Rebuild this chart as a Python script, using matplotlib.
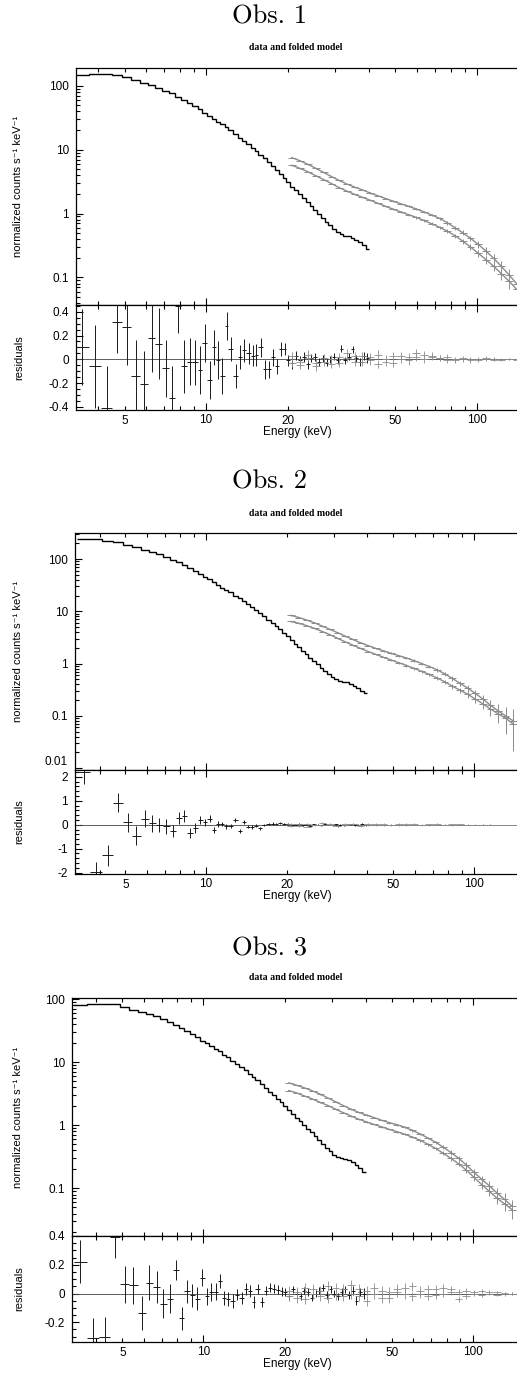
import numpy as np
import matplotlib.pyplot as plt
from matplotlib.ticker import FixedLocator, FuncFormatter, LogLocator, NullFormatter, MultipleLocator

plt.rcParams['font.family'] = ['Liberation Sans', 'DejaVu Sans']
plt.rcParams['axes.unicode_minus'] = False

W, H = 517, 1373

# ---- data ----
# PCA channel edges in keV, same binning for the three observations
pca_edges = [3.3, 3.7, 4.1, 4.5, 4.9, 5.3, 5.7, 6.1, 6.5, 6.9,
             7.3, 7.7, 8.1, 8.5, 8.9, 9.3, 9.7, 10.1, 10.5, 10.9,
             11.3, 11.7, 12.1, 12.6, 13.1, 13.6, 14.1, 14.6, 15.1, 15.6,
             16.2, 16.8, 17.4, 18.0, 18.6, 19.2, 19.8, 20.5, 21.2, 21.9,
             22.6, 23.3, 24.1, 24.9, 25.7, 26.5, 27.4, 28.3, 29.2, 30.1,
             31.1, 32.1, 33.1, 34.2, 35.3, 36.4, 37.6, 38.8, 40.0]

# HEXTE bin edges in keV
hexte_edges = [20.0, 21.5, 23.0, 24.6, 26.3, 28.1, 30.0, 32.0, 34.2, 36.5,
               39.0, 41.7, 44.5, 47.5, 50.7, 54.1, 57.8, 61.7, 65.9, 70.4,
               75.2, 80.3, 85.8, 91.6, 97.8, 104.4, 111.5, 119.0, 127.0, 135.6,
               144.8]

obs1_pca = [150, 155, 154, 146, 135, 122, 112, 102, 92, 84,
            76, 68, 60, 54, 48, 43, 38, 34, 30.5, 27.5,
            25, 22.5, 20, 17.5, 15.5, 13.8, 12.2, 10.8, 9.6, 8.4,
            7.3, 6.3, 5.5, 4.8, 4.15, 3.6, 3.1, 2.65, 2.3, 2.0,
            1.75, 1.5, 1.3, 1.12, 0.98, 0.86, 0.75, 0.66, 0.58, 0.51,
            0.47, 0.45, 0.44, 0.42, 0.39, 0.36, 0.32, 0.28]
obs2_pca = [240, 240, 225, 215, 190, 168, 150, 138, 124, 110,
            98, 88, 77, 68, 60, 53, 46, 41, 36, 32,
            28.5, 26, 23, 20, 18, 16, 14, 12.3, 10.8, 9.3,
            8.0, 6.9, 6.0, 5.2, 4.5, 3.9, 3.35, 2.85, 2.4, 2.05,
            1.78, 1.52, 1.3, 1.12, 0.97, 0.84, 0.73, 0.63, 0.55, 0.5,
            0.47, 0.45, 0.44, 0.41, 0.37, 0.34, 0.3, 0.27]
obs3_pca = [80, 85, 85, 84, 74, 67, 62, 59, 53, 48,
            44, 38.5, 34.5, 31, 28, 25, 22, 20, 18, 16.2,
            14.8, 13.2, 12, 10.6, 9.4, 8.3, 7.4, 6.6, 5.9, 5.2,
            4.5, 3.9, 3.4, 3.0, 2.6, 2.3, 2.0, 1.75, 1.5, 1.32,
            1.15, 1.0, 0.88, 0.77, 0.67, 0.58, 0.5, 0.44, 0.39, 0.34,
            0.31, 0.30, 0.295, 0.28, 0.26, 0.235, 0.21, 0.18]

obs1_hexte_a = [7.5, 6.7, 5.9, 5.1, 4.4, 3.8, 3.3, 2.9, 2.6, 2.35,
                2.1, 1.9, 1.72, 1.56, 1.42, 1.3, 1.18, 1.06, 0.95, 0.84,
                0.72, 0.6, 0.5, 0.41, 0.33, 0.26, 0.2, 0.15, 0.11, 0.08]
obs1_hexte_b = [5.7, 5.1, 4.5, 3.9, 3.4, 2.95, 2.55, 2.25, 2.0, 1.8,
                1.62, 1.45, 1.3, 1.17, 1.06, 0.96, 0.87, 0.78, 0.69, 0.61,
                0.53, 0.45, 0.37, 0.3, 0.24, 0.19, 0.15, 0.115, 0.088, 0.065]
obs2_hexte_a = [8.4, 7.6, 6.8, 6.0, 5.2, 4.5, 3.9, 3.35, 2.9, 2.5,
                2.2, 1.95, 1.75, 1.57, 1.42, 1.28, 1.14, 1.0, 0.88, 0.76,
                0.64, 0.52, 0.42, 0.34, 0.27, 0.21, 0.16, 0.125, 0.1, 0.08]
obs2_hexte_b = [6.4, 5.9, 5.3, 4.7, 4.1, 3.55, 3.05, 2.6, 2.25, 1.95,
                1.7, 1.5, 1.32, 1.17, 1.04, 0.92, 0.81, 0.71, 0.62, 0.53,
                0.45, 0.37, 0.31, 0.26, 0.21, 0.17, 0.135, 0.11, 0.09, 0.07]
obs3_hexte_a = [4.7, 4.3, 3.9, 3.5, 3.1, 2.7, 2.35, 2.05, 1.8, 1.6,
                1.45, 1.32, 1.2, 1.1, 1.02, 0.93, 0.83, 0.73, 0.63, 0.54,
                0.45, 0.37, 0.3, 0.235, 0.18, 0.14, 0.11, 0.085, 0.067, 0.052]
obs3_hexte_b = [3.55, 3.25, 2.9, 2.6, 2.3, 2.05, 1.8, 1.58, 1.4, 1.25,
                1.13, 1.03, 0.94, 0.86, 0.79, 0.72, 0.65, 0.58, 0.5, 0.43,
                0.36, 0.3, 0.245, 0.195, 0.15, 0.115, 0.09, 0.07, 0.057, 0.046]

# fractional flux errors of the HEXTE points
hexte_frac_err = [0.010, 0.010, 0.011, 0.012, 0.013, 0.014, 0.015, 0.017, 0.019, 0.021,
                  0.023, 0.025, 0.028, 0.031, 0.034, 0.038, 0.042, 0.047, 0.053, 0.060,
                  0.068, 0.078, 0.090, 0.105, 0.12, 0.14, 0.17, 0.20, 0.24, 0.28]
hexte_frac_err_obs2 = [0.012, 0.012, 0.013, 0.014, 0.015, 0.017, 0.019, 0.021, 0.023, 0.026,
                       0.029, 0.032, 0.036, 0.040, 0.045, 0.050, 0.056, 0.063, 0.071, 0.080,
                       0.090, 0.10, 0.12, 0.14, 0.17, 0.21, 0.27, 0.35, 0.5, 0.7]

# residuals
obs1_pca_res = [0.10, -0.06, -0.41, 0.31, 0.27, -0.14, -0.21, 0.175, 0.13, -0.076,
                -0.33, 0.445, -0.06, -0.02, -0.025, -0.09, 0.14, -0.175, 0.10, -0.006,
                -0.14, 0.28, 0.085, -0.14, 0.02, 0.075, 0.05, 0.03, 0.037, 0.10,
                -0.085, -0.085, 0.017, -0.06, 0.085, 0.085, -0.01, -0.03, 0.03, -0.01,
                0.02, -0.04, 0.01, 0.02, -0.02, 0.01, -0.03, 0.0, 0.02, -0.01,
                0.09, -0.01, 0.02, 0.085, 0.01, -0.02, 0.03, 0.01]
obs1_pca_err = [0.32, 0.35, 0.35, 0.26, 0.32, 0.30, 0.28, 0.28, 0.30, 0.24,
                0.27, 0.22, 0.22, 0.20, 0.19, 0.20, 0.16, 0.16, 0.15, 0.16,
                0.15, 0.12, 0.10, 0.10, 0.10, 0.095, 0.09, 0.09, 0.09, 0.08,
                0.08, 0.07, 0.07, 0.06, 0.06, 0.05, 0.05, 0.05, 0.04, 0.04,
                0.04, 0.04, 0.035, 0.035, 0.035, 0.03, 0.03, 0.03, 0.03, 0.03,
                0.03, 0.03, 0.03, 0.03, 0.03, 0.035, 0.035, 0.04]
obs2_pca_res = [2.2, -1.97, -1.28, 0.93, 0.1, -0.45, 0.25, 0.06, -0.02, -0.07,
                -0.28, 0.3, 0.35, -0.35, -0.14, 0.21, 0.11, 0.25, -0.21, 0.03,
                0.03, -0.07, -0.04, 0.19, -0.25, 0.11, -0.08, -0.1, -0.04, -0.14,
                -0.01, 0.02, 0.05, 0.03, 0.06, 0.04, 0.02, -0.03, 0.0, 0.03,
                -0.02, 0.01, -0.04, 0.02, 0.0, -0.02, 0.03, 0.01, -0.01, 0.02,
                0.0, -0.03, 0.01, 0.02, -0.01, 0.0, 0.02, -0.01]
obs2_pca_err = [0.5, 0.4, 0.45, 0.4, 0.4, 0.4, 0.35, 0.35, 0.3, 0.3,
                0.25, 0.25, 0.25, 0.2, 0.2, 0.17, 0.15, 0.15, 0.12, 0.12,
                0.1, 0.1, 0.09, 0.09, 0.08, 0.08, 0.07, 0.07, 0.06, 0.06,
                0.05, 0.05, 0.05, 0.04, 0.04, 0.04, 0.04, 0.04, 0.03, 0.03,
                0.03, 0.03, 0.03, 0.03, 0.03, 0.03, 0.03, 0.03, 0.03, 0.03,
                0.03, 0.03, 0.03, 0.03, 0.035, 0.035, 0.04, 0.04]
obs3_pca_res = [0.22, -0.31, -0.30, 0.39, 0.064, 0.057, -0.137, 0.075, 0.045, -0.07,
                -0.035, 0.165, -0.172, 0.016, -0.012, -0.035, 0.11, -0.02, 0.01, 0.012,
                0.087, -0.03, -0.04, -0.05, -0.007, -0.03, 0.033, 0.016, -0.06, 0.033,
                -0.06, 0.02, 0.04, 0.033, 0.028, 0.016, 0.01, -0.02, 0.03, 0.0,
                -0.02, 0.02, 0.01, -0.03, 0.0, 0.02, 0.04, -0.01, 0.03, 0.0,
                -0.02, 0.01, 0.03, -0.01, 0.02, -0.05, 0.01, 0.0]
obs3_pca_err = [0.15, 0.14, 0.14, 0.14, 0.13, 0.13, 0.12, 0.12, 0.11, 0.10,
                0.10, 0.07, 0.08, 0.08, 0.08, 0.08, 0.06, 0.06, 0.06, 0.06,
                0.05, 0.05, 0.05, 0.05, 0.04, 0.04, 0.04, 0.04, 0.04, 0.035,
                0.035, 0.03, 0.03, 0.03, 0.03, 0.03, 0.025, 0.025, 0.025, 0.025,
                0.025, 0.025, 0.025, 0.025, 0.025, 0.025, 0.025, 0.025, 0.025, 0.025,
                0.025, 0.025, 0.025, 0.03, 0.03, 0.03, 0.03, 0.035]

obs1_hres_a = [0.03, -0.02, 0.04, -0.03, 0.01, -0.04, 0.02, 0.05, -0.02, 0.03,
               -0.01, 0.04, 0.0, -0.03, 0.03, 0.02, 0.05, 0.04, 0.02, 0.01,
               -0.01, 0.0, 0.01, -0.01, 0.0, 0.01, -0.005, 0.0, 0.005, -0.005]
obs1_hres_b = [-0.03, -0.05, 0.01, -0.06, -0.02, 0.0, -0.03, 0.01, 0.03, -0.02,
               0.02, -0.04, -0.02, 0.03, 0.0, -0.01, 0.02, 0.0, 0.03, 0.01,
               0.02, -0.01, 0.0, 0.005, -0.01, 0.0, 0.005, -0.005, 0.0, 0.0]
obs2_hres_a = [0.03, -0.05, 0.04, -0.02, 0.06, 0.01, -0.04, 0.05, 0.02, -0.03,
               0.04, 0.0, 0.05, -0.02, 0.03, 0.04, 0.01, -0.03, 0.02, 0.03,
               0.0, -0.02, 0.02, 0.0, -0.01, 0.01, 0.0, -0.01, 0.0, 0.0]
obs2_hres_b = [-0.06, 0.02, -0.08, 0.01, -0.03, 0.04, -0.05, -0.02, 0.03, -0.04,
               -0.01, 0.02, -0.03, 0.01, -0.02, 0.0, 0.02, 0.01, -0.02, 0.0,
               0.01, 0.02, -0.01, 0.01, 0.0, 0.0, 0.01, 0.0, -0.01, 0.0]
obs3_hres_a = [0.02, -0.03, 0.04, 0.0, -0.02, 0.05, -0.01, 0.03, 0.06, -0.02,
               0.02, 0.04, -0.03, 0.01, 0.03, 0.0, 0.05, 0.02, -0.02, 0.03,
               0.04, 0.01, -0.04, 0.02, 0.0, 0.02, 0.01, -0.01, 0.005, 0.0]
obs3_hres_b = [-0.02, 0.01, -0.04, 0.03, 0.02, -0.03, 0.04, -0.02, 0.0, 0.03,
               -0.05, 0.0, 0.02, -0.03, 0.01, 0.04, -0.02, 0.0, 0.03, -0.01,
               0.0, 0.03, 0.01, -0.02, 0.01, -0.01, 0.0, 0.01, -0.005, 0.0]
hexte_res_err = [0.035, 0.035, 0.035, 0.035, 0.035, 0.035, 0.035, 0.035, 0.035, 0.035,
                 0.035, 0.035, 0.035, 0.035, 0.035, 0.035, 0.033, 0.03, 0.028, 0.026,
                 0.024, 0.022, 0.02, 0.018, 0.016, 0.014, 0.012, 0.01, 0.009, 0.008]

obs_names = ['Obs. 1', 'Obs. 2', 'Obs. 3']
res_ticks = [[-0.4, -0.2, 0, 0.2, 0.4], [-2, -1, 0, 1, 2], [-0.2, 0, 0.2, 0.4]]

# ---- layout in pixels: title y, subtitle y, upper top, boundary, bottom, left ----
panels = [
    dict(title_y=17, sub_y=47, top=68, mid=305, bot=410, left=76,
         xlim=(3.31, 140.6), ylim=(0.037, 190), rlim=(-0.427, 0.457), rminor=0.05),
    dict(title_y=482, sub_y=513, top=533, mid=770, bot=874, left=75,
         xlim=(3.24, 144.7), ylim=(0.0092, 316), rlim=(-2.06, 2.29), rminor=0.2),
    dict(title_y=949, sub_y=978, top=998, mid=1236, bot=1342, left=72,
         xlim=(3.25, 146), ylim=(0.0176, 104), rlim=(-0.337, 0.4), rminor=0.05),
]

spectra = [
    (obs1_pca, obs1_hexte_a, obs1_hexte_b, hexte_frac_err,
     obs1_pca_res, obs1_pca_err, obs1_hres_a, obs1_hres_b),
    (obs2_pca, obs2_hexte_a, obs2_hexte_b, hexte_frac_err_obs2,
     obs2_pca_res, obs2_pca_err, obs2_hres_a, obs2_hres_b),
    (obs3_pca, obs3_hexte_a, obs3_hexte_b, hexte_frac_err,
     obs3_pca_res, obs3_pca_err, obs3_hres_a, obs3_hres_b),
]

pe = np.array(pca_edges)
pca_c = np.sqrt(pe[:-1] * pe[1:])
pca_xerr = [pca_c - pe[:-1], pe[1:] - pca_c]
he = np.array(hexte_edges)
hex_c = np.sqrt(he[:-1] * he[1:])
hex_xerr = [hex_c - he[:-1], he[1:] - hex_c]

x_minor = [3, 4, 5, 6, 7, 8, 9, 20, 30, 40, 50, 60, 70, 80, 90, 200]
fmt_g = FuncFormatter(lambda v, p: '%g' % v)
fmt_minor = FuncFormatter(lambda v, p: '%g' % v if round(v) in (5, 20, 50) else '')

TICK_FS = 8.5
PCA_COL = '#1a1a1a'
HEX_COL = '#8c8c8c'


def rect(left, top, bottom):
    return [left / W, 1 - bottom / H, (W - left) / W, (bottom - top) / H]


def style_x(ax, xlim):
    ax.set_xscale('log')
    ax.set_xlim(*xlim)
    ax.xaxis.set_major_locator(FixedLocator([10, 100]))
    ax.xaxis.set_minor_locator(FixedLocator(x_minor))
    ax.xaxis.set_major_formatter(fmt_g)
    ax.xaxis.set_minor_formatter(fmt_minor)
    ax.tick_params(which='both', direction='in', top=True, right=False,
                   labelsize=TICK_FS, width=0.8)
    ax.tick_params(which='major', length=5)
    ax.tick_params(which='minor', length=3)
    ax.spines['right'].set_visible(False)
    for s in ('left', 'top', 'bottom'):
        ax.spines[s].set_linewidth(0.9)


fig = plt.figure(figsize=(W / 100, H / 100), dpi=100)
upper_axes = []

for i, p in enumerate(panels):
    pca, ha, hb, ferr, pres, perr, hra, hrb = spectra[i]

    ax = fig.add_axes(rect(p['left'], p['top'], p['mid']))
    rx = fig.add_axes(rect(p['left'], p['mid'], p['bot']))
    upper_axes.append(ax)

    # upper: data and folded model
    ax.stairs(pca, pca_edges, color='black', lw=1.0, baseline=None)
    for vals in (ha, hb):
        v = np.array(vals)
        ax.plot(hex_c, v, color=HEX_COL, lw=1.0)
        ax.errorbar(hex_c, v, xerr=hex_xerr, yerr=v * np.array(ferr), fmt='none',
                    ecolor=HEX_COL, elinewidth=0.7, capsize=0)
    style_x(ax, p['xlim'])
    ax.set_yscale('log')
    ax.set_ylim(*p['ylim'])
    ax.yaxis.set_major_locator(LogLocator(base=10))
    ax.yaxis.set_minor_locator(LogLocator(base=10, subs=np.arange(2, 10)))
    ax.yaxis.set_major_formatter(fmt_g)
    ax.yaxis.set_minor_formatter(NullFormatter())
    ax.tick_params(axis='y', pad=5)
    ax.tick_params(labelbottom=False, which='both')

    # lower: residuals
    rx.axhline(0, color='#444444', lw=0.6)
    rx.errorbar(pca_c, pres, xerr=pca_xerr, yerr=perr, fmt='none',
                ecolor=PCA_COL, elinewidth=0.7, capsize=0)
    for res in (hra, hrb):
        rx.errorbar(hex_c, res, xerr=hex_xerr, yerr=hexte_res_err, fmt='none',
                    ecolor=HEX_COL, elinewidth=0.6, capsize=0)
    style_x(rx, p['xlim'])
    rx.set_ylim(*p['rlim'])
    rx.yaxis.set_major_locator(FixedLocator(res_ticks[i]))
    rx.yaxis.set_minor_locator(MultipleLocator(p['rminor']))
    rx.yaxis.set_major_formatter(fmt_g)
    rx.tick_params(axis='y', pad=5)
    rx.tick_params(axis='x', pad=3)

    # texts
    fig.text(270 / W, 1 - p['title_y'] / H, obs_names[i], family='cmr10',
             fontsize=19, ha='center', va='center')
    fig.text(296 / W, 1 - p['sub_y'] / H, 'data and folded model',
             family='Liberation Serif', weight='bold', fontsize=7,
             ha='center', va='center')
    fig.text(18 / W, 1 - (p['top'] + p['mid']) / 2 / H,
             'normalized counts s\u207b\u00b9 keV\u207b\u00b9',
             rotation=90, fontsize=8, ha='center', va='center')
    fig.text(19 / W, 1 - (p['mid'] + p['bot']) / 2 / H, 'residuals',
             rotation=90, fontsize=8, ha='center', va='center')
    fig.text(297 / W, 1 - (p['bot'] + 22) / H, 'Energy (keV)',
             fontsize=8.5, ha='center', va='center')

# the 0.01 label of Obs. 2 sits on the boundary, lift it above the residual "2"
fig.canvas.draw()
for t in upper_axes[1].yaxis.get_major_ticks():
    if abs(t.get_loc() - 0.01) < 1e-6:
        t.label1.set_va('bottom')

fig.savefig('out.png', dpi=100)
